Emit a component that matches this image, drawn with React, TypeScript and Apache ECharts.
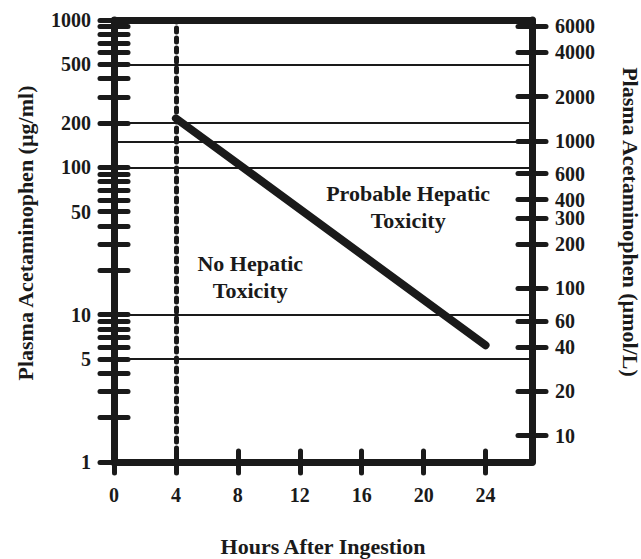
import React, { useEffect, useRef } from 'react';
import * as echarts from 'echarts';

// ---- data ----
const hourTicks = [0, 4, 8, 12, 16, 20, 24];
const hourMin = 0;
const hourMax = 27;
const leftMin = 1;
const leftMax = 1000;
const leftTicks = [1, 2, 3, 4, 5, 6, 7, 8, 9, 10, 20, 30, 40, 50, 60, 70, 80, 90, 100, 200, 300, 400, 500, 600, 700, 800, 900, 1000];
const leftLabels = [1, 5, 10, 50, 100, 200, 500, 1000];
const rightTicks = [10, 20, 40, 60, 100, 200, 300, 400, 600, 1000, 2000, 4000, 6000];
const UMOL_PER_UG = 6.615; // µmol/L per µg/ml
const refLevels = [500, 200, 150, 100, 10, 5];
const nomogramHours = [4, 24];
const nomogramLevels = [215, 6.2];
const markerHour = 4;
const regionNames = ['Probable Hepatic\nToxicity', 'No Hepatic\nToxicity'];
const regionHours = [19, 8.8];
const regionLevels = [54, 18];

const INK = '#1a1a1a';
const FONT = '"Liberation Serif", "Times New Roman", serif';
const W = 641;
const H = 559;

export default function App() {
  const ref = useRef<HTMLDivElement>(null);
  useEffect(() => {
    if (!ref.current) return;
    const chart = echarts.init(ref.current, undefined, { renderer: 'svg', width: W, height: H });
    const label = { color: INK, fontFamily: FONT, fontWeight: 'bold' as const, fontSize: 20 };
    const fmt = (v: number) => String(Math.round(v));
    const axisLine = { show: true, onZero: false, lineStyle: { color: INK, width: 7, cap: 'round' } };
    const noLine = { show: false, onZero: false };

    const yAxis = (position: string, min: number, max: number, ticks: number[], labels: number[] | null, inside: boolean) => ({
      type: 'log',
      logBase: 10,
      min,
      max,
      position,
      axisLine: inside ? noLine : axisLine,
      axisTick: {
        show: true,
        inside,
        length: 14,
        customValues: ticks,
        lineStyle: { color: INK, width: 5, cap: 'round' },
      },
      minorTick: { show: false },
      splitLine: { show: false },
      axisLabel: labels
        ? { show: true, customValues: labels, margin: 23, formatter: fmt, lineHeight: 16, ...label }
        : { show: false },
    });

    const option: any = {
      animation: false,
      backgroundColor: '#ffffff',
      grid: { left: 114, right: 109, top: 20, bottom: 97, containLabel: false, outerBoundsMode: 'none' },
      xAxis: [
        {
          type: 'value',
          min: hourMin,
          max: hourMax,
          position: 'bottom',
          axisLine,
          axisTick: { show: true, length: 11, customValues: hourTicks, lineStyle: { color: INK, width: 5, cap: 'round' } },
          axisLabel: { show: true, customValues: hourTicks, margin: 23, formatter: fmt, ...label },
          splitLine: { show: false },
          name: 'Hours After Ingestion',
          nameLocation: 'middle',
          nameGap: 74,
          nameTextStyle: { ...label, fontSize: 22, lineHeight: 20 },
        },
        {
          type: 'value',
          min: hourMin,
          max: hourMax,
          position: 'bottom',
          axisLine: noLine,
          axisTick: { show: true, inside: true, length: 11, customValues: hourTicks, lineStyle: { color: INK, width: 5, cap: 'round' } },
          axisLabel: { show: false },
          splitLine: { show: false },
        },
        {
          type: 'value',
          min: hourMin,
          max: hourMax,
          position: 'top',
          axisLine,
          axisTick: { show: false },
          axisLabel: { show: false },
          splitLine: { show: false },
        },
      ],
      yAxis: [
        yAxis('left', leftMin, leftMax, leftTicks, leftLabels, false),
        yAxis('left', leftMin, leftMax, leftTicks, null, true),
        yAxis('right', leftMin * UMOL_PER_UG, leftMax * UMOL_PER_UG, rightTicks, rightTicks, false),
        yAxis('right', leftMin * UMOL_PER_UG, leftMax * UMOL_PER_UG, rightTicks, null, true),
      ],
      graphic: [
        {
          type: 'text',
          x: 25,
          y: 233,
          rotation: Math.PI / 2,
          style: {
            text: 'Plasma Acetaminophen (µg/ml)',
            fill: INK,
            fontFamily: FONT,
            fontWeight: 'bold',
            fontSize: 22,
            align: 'center',
            verticalAlign: 'middle',
          },
        },
        {
          type: 'text',
          x: 630,
          y: 222,
          rotation: -Math.PI / 2,
          style: {
            text: 'Plasma Acetaminophen (µmol/L)',
            fill: INK,
            fontFamily: FONT,
            fontWeight: 'bold',
            fontSize: 22,
            align: 'center',
            verticalAlign: 'middle',
          },
        },
      ],
      series: [
        {
          type: 'line',
          xAxisIndex: 0,
          yAxisIndex: 0,
          data: nomogramHours.map((h, i) => [h, nomogramLevels[i]]),
          symbol: 'none',
          lineStyle: { color: INK, width: 8, cap: 'round' },
          silent: true,
          markLine: {
            silent: true,
            symbol: ['none', 'none'],
            label: { show: false },
            emphasis: { disabled: true },
            data: [
              ...refLevels.map((v) => ({ yAxis: v, lineStyle: { color: INK, width: 2, type: 'solid' } })),
              { xAxis: markerHour, lineStyle: { color: INK, width: 5, type: [4, 6], cap: 'round' } },
            ],
          },
          markPoint: {
            silent: true,
            symbol: 'circle',
            symbolSize: 1,
            itemStyle: { color: 'rgba(0,0,0,0)' },
            label: {
              show: true,
              position: 'inside',
              formatter: '{b}',
              ...label,
              fontSize: 22,
              lineHeight: 27,
              align: 'center',
            },
            data: regionNames.map((n, i) => ({ name: n, coord: [regionHours[i], regionLevels[i]] })),
          },
        },
      ],
    };
    chart.setOption(option);
    return () => chart.dispose();
  }, []);
  return <div ref={ref} style={{ position: 'fixed', left: 0, top: 0, width: W, height: H }} />;
}
